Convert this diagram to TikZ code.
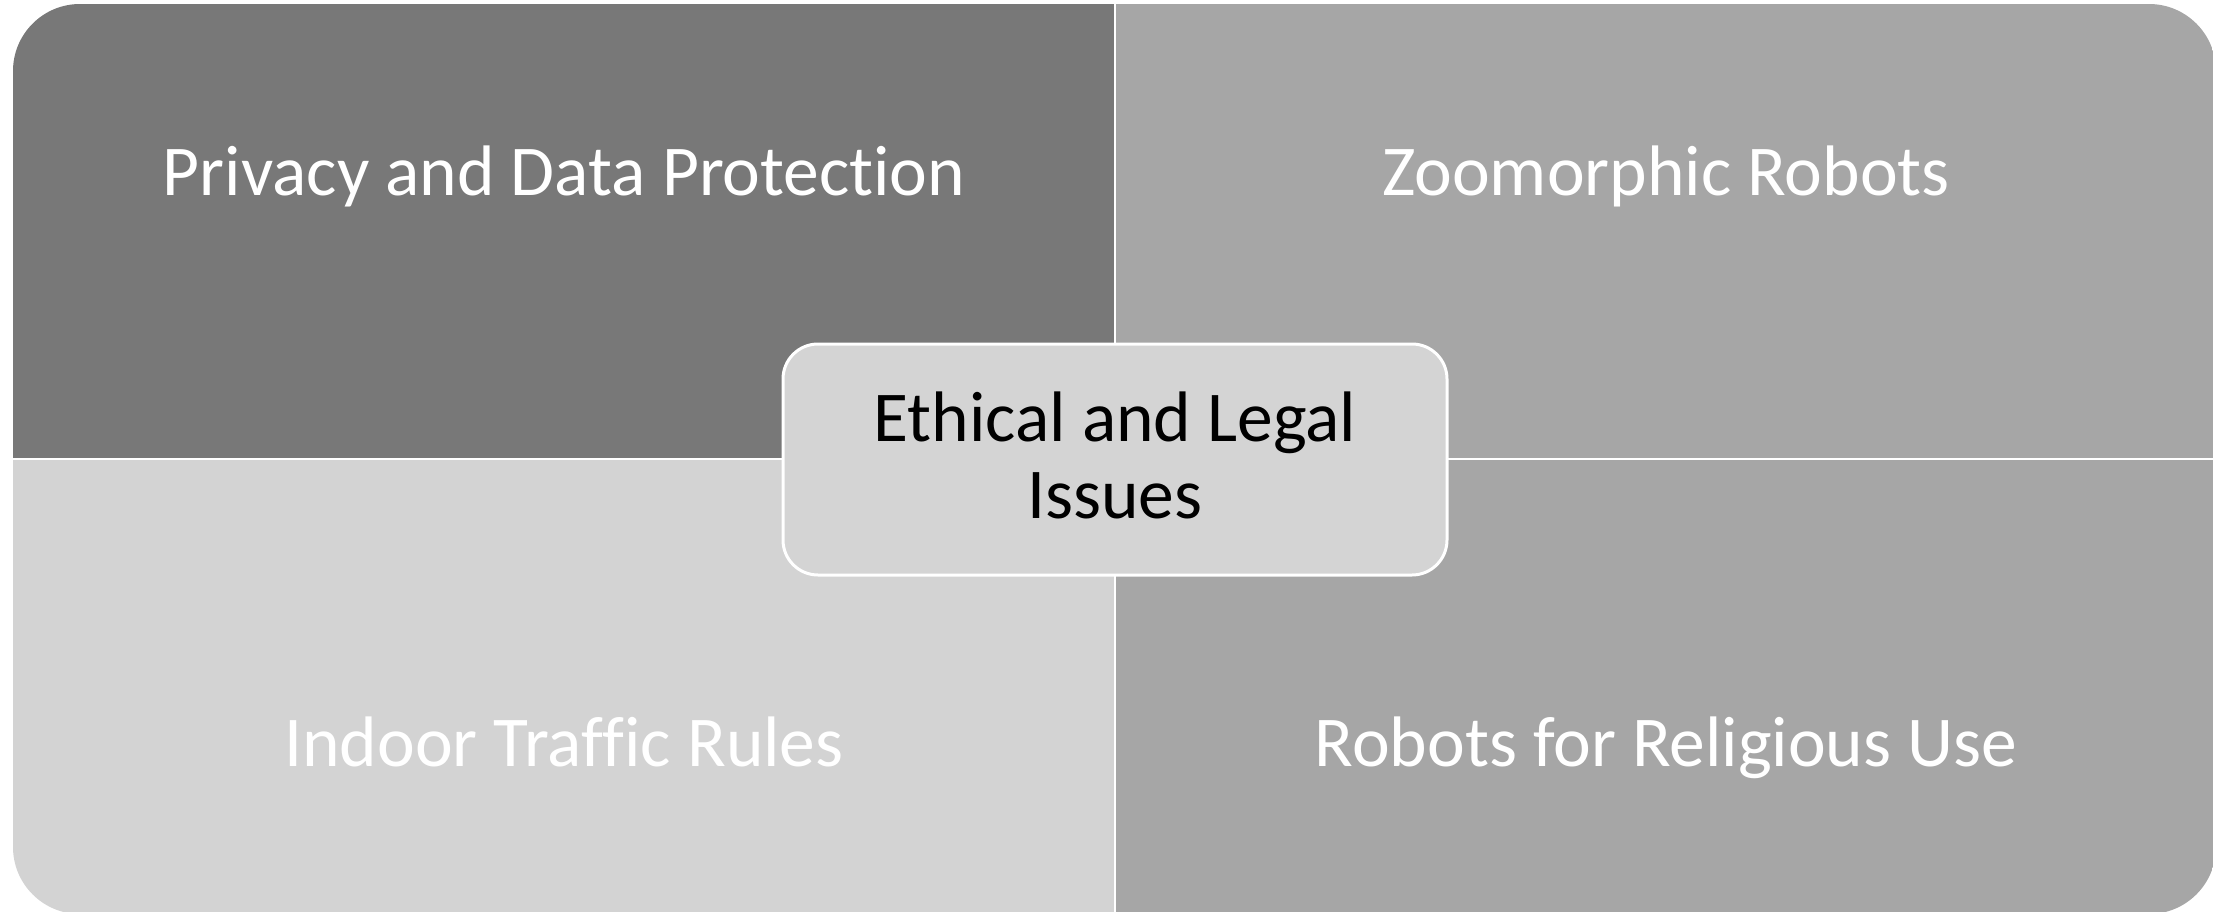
\documentclass[tikz,border=0pt]{standalone}
\usepackage{fontspec}
\setmainfont[Ligatures=NoCommon]{Carlito}
\definecolor{qdark}{HTML}{787878}
\definecolor{qmid}{HTML}{A6A6A6}
\definecolor{qlight}{HTML}{D3D3D3}
\definecolor{cbox}{HTML}{D4D4D4}
\newcommand{\twolines}[2]{\raisebox{-5.5pt}[\height][\depth]{\begin{tabular}{@{}c@{}}#1\\#2\end{tabular}}}
\begin{document}
\begin{tikzpicture}[x=1pt,y=-1pt,
  quadlabel/.style={text=white,font=\fontsize{71.5}{77}\selectfont,anchor=base,inner sep=0pt},
  divider/.style={white,line width=2.5pt},
  centerbox/.style={draw=white,line width=3pt,fill=cbox,rounded corners=35pt,
    minimum width=664pt,minimum height=231pt,inner sep=0pt,
    font=\fontsize{71.5}{77}\selectfont,text=black}]
\useasboundingbox (0,0) rectangle (2213,912);
\begin{scope}
  \clip[rounded corners=67pt] (13,4) rectangle (2216,914);
  \fill[qdark] (13,4) rectangle (1115,459);
  \fill[qmid] (1115,4) rectangle (2216,459);
  \fill[qlight] (13,459) rectangle (1115,914);
  \fill[qmid] (1115,459) rectangle (2216,914);
  \coordinate (vt) at (1115,4);
  \coordinate (vb) at (1115,914);
  \coordinate (hl) at (13,459);
  \coordinate (hr) at (2216,459);
  \draw[divider] (vt) -- (vb);
  \draw[divider] (hl) -- (hr);
\end{scope}
\node[quadlabel] (tl) at (564,196) {Privacy and Data Protection};
\node[quadlabel] (tr) at (1666,196) {Zoomorphic Robots};
\node[quadlabel] (bl) at (564,766) {Indoor Traffic Rules};
\node[quadlabel] (br) at (1666,766) {Robots for Religious Use};
\node[centerbox] (c) at (1115,459.5) {\twolines{Ethical and Legal}{Issues}};
\end{tikzpicture}
\end{document}
